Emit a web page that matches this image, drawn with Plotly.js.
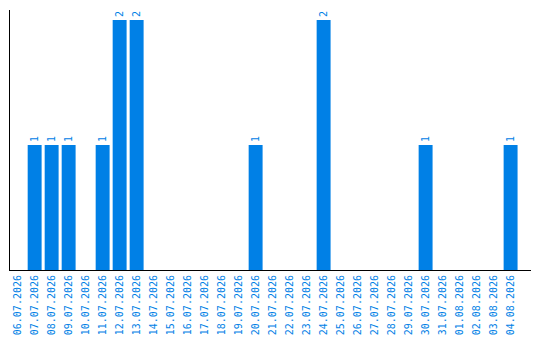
<!DOCTYPE html>
<html>
<head>
<meta charset="utf-8">
<script src="https://cdn.plot.ly/plotly-3.0.1.min.js"></script>
<style>
  html, body { margin: 0; padding: 0; background: #fff; }
  #chart { width: 540px; height: 340px; }
</style>
</head>
<body>
<div id="chart"></div>
<script>
// Daily counts, 06.07.2026 – 04.08.2026
const days = [
  "06.07.2026", "07.07.2026", "08.07.2026", "09.07.2026", "10.07.2026",
  "11.07.2026", "12.07.2026", "13.07.2026", "14.07.2026", "15.07.2026",
  "16.07.2026", "17.07.2026", "18.07.2026", "19.07.2026", "20.07.2026",
  "21.07.2026", "22.07.2026", "23.07.2026", "24.07.2026", "25.07.2026",
  "26.07.2026", "27.07.2026", "28.07.2026", "29.07.2026", "30.07.2026",
  "31.07.2026", "01.08.2026", "02.08.2026", "03.08.2026", "04.08.2026"
];
const counts = [
  0, 1, 1, 1, 0,
  1, 2, 2, 0, 0,
  0, 0, 0, 0, 1,
  0, 0, 0, 2, 0,
  0, 0, 0, 0, 1,
  0, 0, 0, 0, 1
];

const blue = "#0080e6";
const mono = "DejaVu Sans Mono, monospace";

// only non-zero days carry a value label
const labels = counts.map(v => (v > 0 ? String(v) : ""));

const trace = {
  type: "bar",
  x: days,
  y: counts,
  marker: { color: blue },
  text: labels,
  textposition: "outside",
  textangle: -90,
  constraintext: "none",
  cliponaxis: false,
  textfont: { family: mono, size: 10, color: blue },
  hoverinfo: "none"
};

const layout = {
  width: 540,
  height: 340,
  margin: { l: 10, r: 9, t: 10, b: 70 },
  paper_bgcolor: "#fff",
  plot_bgcolor: "#fff",
  showlegend: false,
  bargap: 0.18,
  font: { family: mono, size: 10, color: blue },
  xaxis: {
    type: "category",
    range: [-0.45, 30.2],
    tickangle: -90,
    ticks: "",
    showgrid: false,
    zeroline: false,
    showline: true,
    linecolor: "#000",
    linewidth: 1,
    tickfont: { family: mono, size: 10, color: blue },
    fixedrange: true
  },
  yaxis: {
    range: [0, 2.08],
    showticklabels: false,
    ticks: "",
    showgrid: false,
    zeroline: false,
    showline: true,
    linecolor: "#000",
    linewidth: 1,
    fixedrange: true
  }
};

Plotly.newPlot("chart", [trace], layout, { displayModeBar: false, staticPlot: true });
</script>
</body>
</html>
